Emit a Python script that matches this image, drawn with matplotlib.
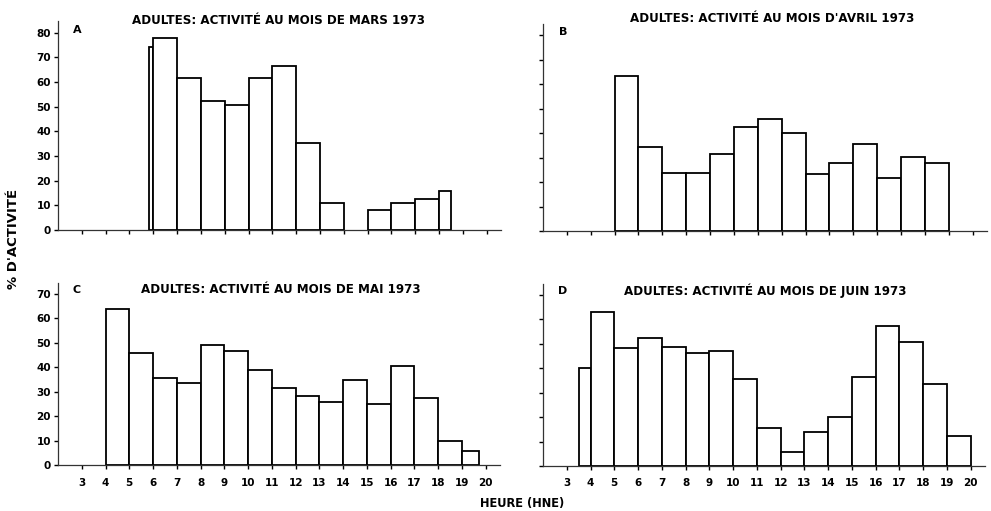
#!/usr/bin/env python3
"""
Activité horaire des adultes, mars-juin 1973: quatre histogrammes (% d'activité par heure HNE).
"""
import matplotlib
matplotlib.use("Agg")
import matplotlib.pyplot as plt

# Heures de début / fin de chaque classe et % d'activité, par mois
mars_start = [5.8, 6, 7, 8, 9, 10, 11, 12, 13, 15, 16, 17, 18]
mars_end = [6, 7, 8, 9, 10, 11, 12, 13, 14, 16, 17, 18, 18.5]
mars_pct = [74, 78, 61.5, 52.3, 50.7, 61.4, 66.4, 35.3, 10.8, 8.2, 10.8, 12.6, 15.8]

avril_start = [5, 6, 7, 8, 9, 10, 11, 12, 13, 14, 15, 16, 17, 18]
avril_end = [6, 7, 8, 9, 10, 11, 12, 13, 14, 15, 16, 17, 18, 19]
avril_pct = [63.5, 34.4, 23.8, 23.8, 31.7, 42.6, 46, 39.9, 23.5, 28, 35.5, 21.5, 30.3, 27.9]

mai_start = [4, 5, 6, 7, 8, 9, 10, 11, 12, 13, 14, 15, 16, 17, 18, 19]
mai_end = [5, 6, 7, 8, 9, 10, 11, 12, 13, 14, 15, 16, 17, 18, 19, 19.7]
mai_pct = [63.5, 45.8, 35.6, 33.6, 49, 46.5, 38.8, 31.6, 28.2, 25.7, 34.6, 24.9, 40.4, 27.4, 9.7, 5.6]

juin_start = [3.5, 4, 5, 6, 7, 8, 9, 10, 11, 12, 13, 14, 15, 16, 17, 18, 19]
juin_end = [4, 5, 6, 7, 8, 9, 10, 11, 12, 13, 14, 15, 16, 17, 18, 19, 20]
juin_pct = [40, 63.2, 48.2, 52.3, 48.6, 46.2, 46.9, 35.8, 15.5, 5.6, 13.8, 20, 36.4, 57.2, 50.6, 33.4, 12.4]

hours = list(range(3, 21))
titles = [
    "ADULTES: ACTIVITÉ AU MOIS DE MARS 1973",
    "ADULTES: ACTIVITÉ AU MOIS D'AVRIL 1973",
    "ADULTES: ACTIVITÉ AU MOIS DE MAI 1973",
    "ADULTES: ACTIVITÉ AU MOIS DE JUIN 1973",
]
letters = ["A", "B", "C", "D"]

W, H = 991, 511
plt.rcParams["font.family"] = "DejaVu Sans"
plt.rcParams["font.weight"] = "bold"
fig = plt.figure(figsize=(W / 100, H / 100), dpi=100)


def px_axes(l, t, r, b):
    return fig.add_axes([l / W, 1 - b / H, (r - l) / W, (b - t) / H])


panels = [
    # axes box in pixels, y range, y ticks, data, title pos, letter pos
    dict(box=(58, 21, 501, 230), ymax=84.7, yticks=range(0, 81, 10), ylabels=True, xlabels=False,
         data=(mars_start, mars_end, mars_pct), title=(279, 20), letter=(77, 30)),
    dict(box=(543, 24, 987, 231), ymax=84.7, yticks=range(0, 81, 10), ylabels=False, xlabels=False,
         data=(avril_start, avril_end, avril_pct), title=(772, 18), letter=(563, 32)),
    dict(box=(58, 283, 500, 465), ymax=74.3, yticks=range(0, 71, 10), ylabels=True, xlabels=True,
         data=(mai_start, mai_end, mai_pct), title=(281, 289), letter=(77, 290)),
    dict(box=(543, 284, 985, 466), ymax=74.5, yticks=range(0, 71, 10), ylabels=False, xlabels=True,
         data=(juin_start, juin_end, juin_pct), title=(765, 291), letter=(563, 291)),
]

for p, title, letter in zip(panels, titles, letters):
    ax = px_axes(*p["box"])
    start, end, pct = p["data"]
    widths = [e - s for s, e in zip(start, end)]
    ax.bar(start, pct, width=widths, align="edge", color="white",
           edgecolor="black", linewidth=1.3, zorder=2)
    ax.set_xlim(2.0, 20.6)
    ax.set_ylim(0, p["ymax"])
    for side in ("top", "right"):
        ax.spines[side].set_visible(False)
    for side in ("left", "bottom"):
        ax.spines[side].set_linewidth(0.9)
        ax.spines[side].set_color("#333333")
    ax.set_xticks(hours)
    ax.set_yticks(list(p["yticks"]))
    ax.tick_params(axis="both", direction="out", length=3, width=1, pad=2,
                   labelsize=7.5)
    if p["xlabels"]:
        ax.set_xticklabels([str(h) for h in hours], fontweight="bold")
        ax.tick_params(axis="x", pad=6)
    else:
        ax.set_xticklabels([])
    if p["ylabels"]:
        ax.set_yticklabels([str(v) for v in p["yticks"]], fontweight="bold")
    else:
        ax.set_yticklabels([])
    ax.patch.set_visible(False)

    tx, ty = p["title"]
    fig.text(tx / W, 1 - ty / H, title, ha="center", va="center",
             fontsize=8.6, fontweight="bold")
    lx, ly = p["letter"]
    fig.text(lx / W, 1 - ly / H, letter, ha="center", va="center",
             fontsize=8, fontweight="bold")

fig.text(14 / W, 1 - 239 / H, "% D'ACTIVITÉ", rotation=90, ha="center",
         va="center", fontsize=9.5, fontweight="bold")
fig.text(522 / W, 1 - 503 / H, "HEURE (HNE)", ha="center", va="center",
         fontsize=8.3, fontweight="bold")

fig.savefig("out.png", dpi=100)
